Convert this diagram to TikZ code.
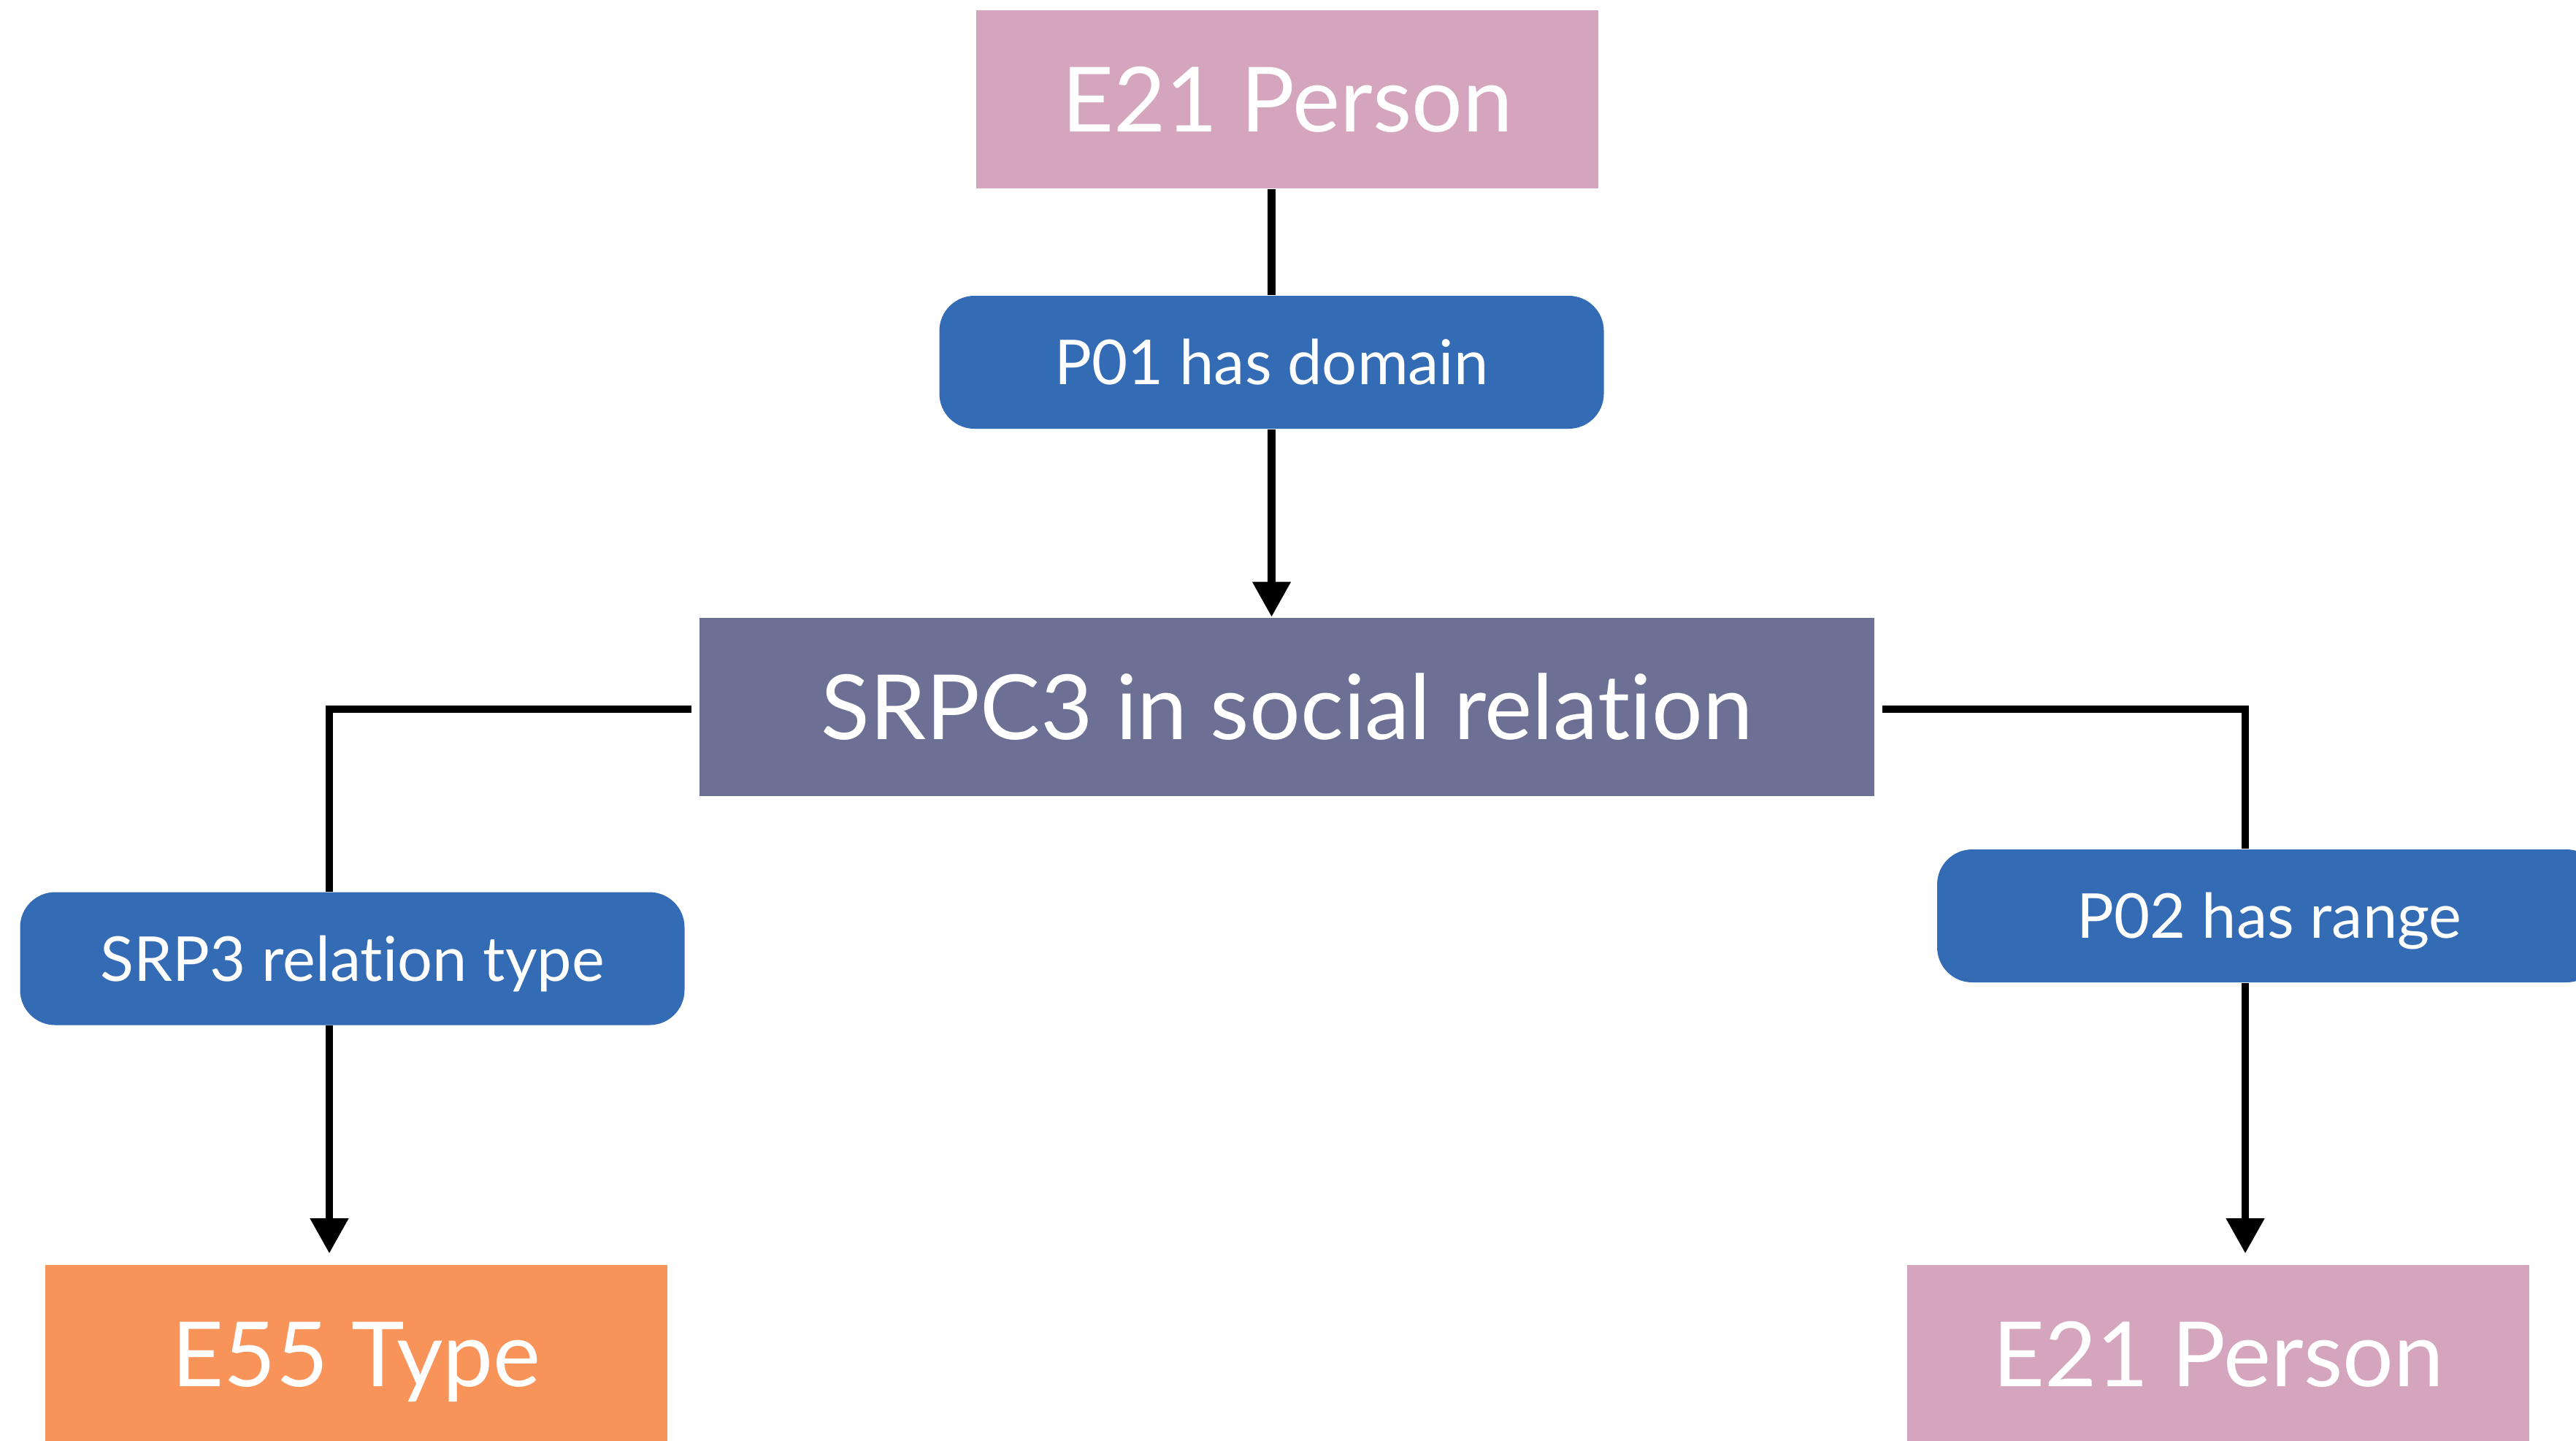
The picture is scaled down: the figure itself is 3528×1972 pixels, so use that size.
\documentclass[tikz,border=0pt]{standalone}
\usepackage{fontspec}
\setmainfont[Ligatures=NoCommon]{Lato}
\usetikzlibrary{arrows.meta}
\definecolor{cpink}{HTML}{D5A5BD}
\definecolor{cblue}{HTML}{336BB5}
\definecolor{cslate}{HTML}{6B7094}
\definecolor{corange}{HTML}{F8935A}
\begin{document}
\begin{tikzpicture}[x=0.25pt,y=-0.25pt,
  entity/.style={rectangle, text=white, inner sep=0pt, minimum width=213pt, minimum height=61pt,
    font=\fontsize{30.8}{37}\selectfont, text height=22.3pt, text depth=0pt},
  prop/.style={rectangle, rounded corners=12pt, fill=cblue, text=white, inner sep=0pt,
    minimum width=227.5pt, minimum height=45.5pt,
    font=\fontsize{21.2}{25}\selectfont, text height=15.3pt, text depth=0pt},
  conn/.style={line width=2.6pt, draw=black},
  arr/.style={conn, -{Triangle[width=12.5pt,length=12pt]}}]
\clip (0,0) rectangle (3528,1972);
\fill[white] (0,0) rectangle (3528,1972);
% nodes
\node[entity, fill=cpink] (top) at (1763,136) {E21 Person};
\node[prop] (p01) at (1741.5,496) {P01 has domain};
\node[entity, fill=cslate, minimum width=402.25pt] (srpc) at (1762.5,967.5) {SRPC3 in social relation};
\node[prop] (srp3) at (482.5,1312.5) {SRP3 relation type};
\node[prop] (p02) at (3108,1254) {P02 has range};
\node[entity, fill=corange] (e55) at (488,1854) {E55 Type};
\node[entity, fill=cpink] (bot) at (3038,1854) {E21 Person};
\coordinate (lx) at (451,971);
\coordinate (rx) at (3075,971);
% connectors
\draw[conn] (top.south -| p01.north) -- (p01.north);
\draw[arr] (p01.south) -- (p01.south |- srpc.north);
\draw[conn] ([xshift=-2.5pt]srpc.west |- lx) -- (lx) -- (lx |- srp3.north);
\draw[arr, shorten >=3.75pt] (lx |- srp3.south) -- (lx |- e55.north);
\draw[conn] ([xshift=2.5pt]srpc.east |- rx) -- (rx) -- (rx |- p02.north);
\draw[arr, shorten >=3.75pt] (rx |- p02.south) -- (rx |- bot.north);
\end{tikzpicture}
\end{document}
